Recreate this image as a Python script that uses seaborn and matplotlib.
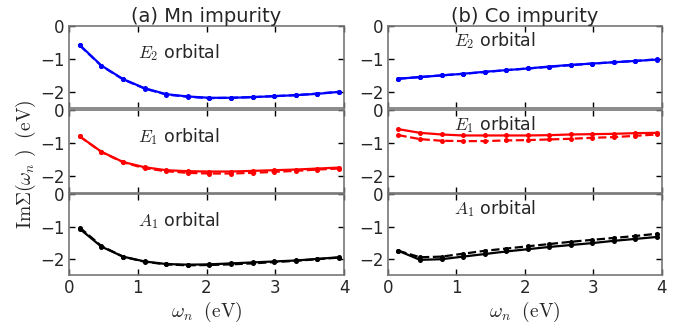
import matplotlib
matplotlib.use("Agg")
import matplotlib.pyplot as plt
import numpy as np
import pandas as pd
import seaborn as sns

# ---------------- data ----------------
omega = [0.157, 0.471, 0.785, 1.100, 1.414, 1.728, 2.042, 2.356, 2.670, 2.985, 3.299, 3.613, 3.927]

mn_e2_solid = [-0.59, -1.21, -1.62, -1.90, -2.08, -2.15, -2.19, -2.19, -2.17, -2.14, -2.11, -2.07, -2.01]
mn_e2_dash = [-0.60, -1.22, -1.63, -1.91, -2.09, -2.16, -2.20, -2.19, -2.17, -2.14, -2.11, -2.06, -2.01]
mn_e1_solid = [-0.80, -1.26, -1.57, -1.73, -1.82, -1.85, -1.86, -1.86, -1.84, -1.82, -1.80, -1.77, -1.74]
mn_e1_dash = [-0.80, -1.27, -1.58, -1.76, -1.85, -1.90, -1.92, -1.92, -1.90, -1.87, -1.84, -1.80, -1.77]
mn_a1_solid = [-1.07, -1.62, -1.93, -2.08, -2.16, -2.18, -2.17, -2.14, -2.11, -2.08, -2.05, -2.00, -1.95]
mn_a1_dash = [-1.03, -1.60, -1.93, -2.09, -2.17, -2.20, -2.19, -2.17, -2.14, -2.10, -2.06, -2.01, -1.96]

co_e2_solid = [-1.61, -1.56, -1.51, -1.46, -1.40, -1.35, -1.30, -1.24, -1.19, -1.15, -1.11, -1.07, -1.03]
co_e2_dash = [-1.61, -1.56, -1.51, -1.46, -1.41, -1.35, -1.30, -1.25, -1.20, -1.15, -1.11, -1.07, -1.02]
co_e1_solid = [-0.58, -0.69, -0.74, -0.77, -0.77, -0.77, -0.77, -0.76, -0.74, -0.73, -0.72, -0.70, -0.69]
co_e1_dash = [-0.76, -0.88, -0.93, -0.94, -0.94, -0.92, -0.91, -0.89, -0.87, -0.84, -0.82, -0.78, -0.74]
co_a1_solid = [-1.75, -2.03, -2.01, -1.93, -1.85, -1.77, -1.70, -1.63, -1.57, -1.51, -1.44, -1.38, -1.32]
co_a1_dash = [-1.75, -1.95, -1.93, -1.84, -1.75, -1.68, -1.61, -1.54, -1.47, -1.41, -1.35, -1.29, -1.22]

impurities = ["(a) Mn impurity", "(b) Co impurity"]
orbitals = ["E2", "E1", "A1"]
orbital_labels = [r"$E_2$ orbital", r"$E_1$ orbital", r"$A_1$ orbital"]
orbital_colors = ["#0000ff", "#ff0000", "#000000"]
xticks = [0, 1, 2, 3, 4]
yticks = [0, -1, -2]

series = {
    ("(a) Mn impurity", "E2"): (mn_e2_solid, mn_e2_dash),
    ("(a) Mn impurity", "E1"): (mn_e1_solid, mn_e1_dash),
    ("(a) Mn impurity", "A1"): (mn_a1_solid, mn_a1_dash),
    ("(b) Co impurity", "E2"): (co_e2_solid, co_e2_dash),
    ("(b) Co impurity", "E1"): (co_e1_solid, co_e1_dash),
    ("(b) Co impurity", "A1"): (co_a1_solid, co_a1_dash),
}

rows = []
for (imp, orb), (sol, das) in series.items():
    for w, v in zip(omega, sol):
        rows.append(dict(imp=imp, orb=orb, kind="solid", omega=w, value=v))
    for w, v in zip(omega, das):
        rows.append(dict(imp=imp, orb=orb, kind="dashed", omega=w, value=v))
df = pd.DataFrame(rows)

# ---------------- style ----------------
sns.set_style("ticks")
plt.rcParams["font.family"] = ["DejaVu Sans"]
plt.rcParams["mathtext.fontset"] = "cm"
plt.rcParams["axes.unicode_minus"] = True

fig = plt.figure(figsize=(6.8, 3.28), dpi=100)
W, H = 680.0, 328.0
col_x = [(69, 344), (387.7, 662)]
row_y = [(25.7, 108.0), (110.0, 192.7), (194.4, 275.0)]

for ci, imp in enumerate(impurities):
    x0, x1 = col_x[ci]
    for ri, orb in enumerate(orbitals):
        y0, y1 = row_y[ri]
        ax = fig.add_axes([x0 / W, 1 - y1 / H, (x1 - x0) / W, (y1 - y0) / H])
        sub = df[(df.imp == imp) & (df.orb == orb)]
        col = orbital_colors[ri]
        d = sub[sub.kind == "dashed"]
        s = sub[sub.kind == "solid"]
        sns.lineplot(data=d, x="omega", y="value", ax=ax, color=col, linestyle="--",
                     linewidth=1.6, marker="o", markersize=3.6, markeredgewidth=0)
        sns.lineplot(data=s, x="omega", y="value", ax=ax, color=col, linestyle="-",
                     linewidth=1.6, marker="o", markersize=3.6, markeredgewidth=0)
        ax.set_xlim(0, 4)
        ax.set_ylim(-2.5, 0)
        ax.set_xticks(xticks)
        ax.set_yticks(yticks)
        ax.set_yticklabels([f"{t}".replace("-", "\u2212") for t in yticks])
        ax.set_xlabel("")
        ax.set_ylabel("")
        for sp in ax.spines.values():
            sp.set_visible(True)
            sp.set_color("#777777")
            sp.set_linewidth(1.2)
        ax.tick_params(direction="in", top=True, right=True, length=4, width=1,
                       color="black", labelsize=12, pad=3)
        if ri < 2:
            ax.set_xticklabels([])
        else:
            ax.set_xticklabels([str(t) for t in xticks])
            ax.set_xlabel(r"$\omega_n\ \ \mathrm{(eV)}$", fontsize=14, labelpad=2)
        if ri == 0:
            ax.set_title(imp, fontsize=14, pad=3)
        if ci == 0:
            ax.text(1.0, -0.8, orbital_labels[ri], fontsize=12.5, va="center", ha="left")
        else:
            ax.text(0.97, -0.45, orbital_labels[ri], fontsize=12.5, va="center", ha="left")

fig.text(0.038, 0.5, r"$\mathrm{Im}\Sigma(\omega_n\ )\ \ \mathrm{(eV)}$", rotation=90,
         fontsize=14, ha="center", va="center")

fig.savefig("out.png", dpi=100)
